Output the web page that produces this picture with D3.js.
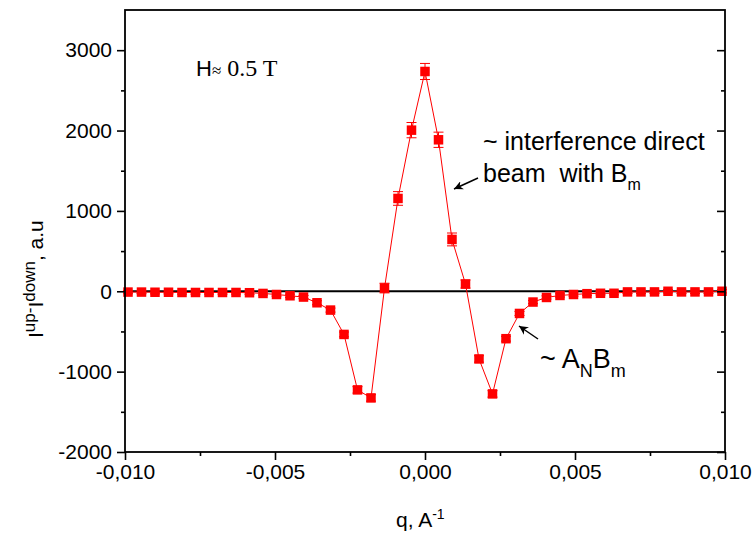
<!DOCTYPE html>
<html>
<head>
<meta charset="utf-8">
<script src="https://cdn.jsdelivr.net/npm/d3@7"></script>
<style>
  html, body { margin: 0; padding: 0; background: #fff; }
  svg { display: block; }
  text { font-family: "Liberation Sans", Arial, sans-serif; fill: #000; white-space: pre; }
</style>
</head>
<body>
<svg id="chart" width="756" height="537"></svg>
<script>
// Momentum transfer q (1/A)
const qValues = [
  -0.00990, -0.00945, -0.00900, -0.00855, -0.00810, -0.00765, -0.00720, -0.00675, -0.00630,
  -0.00585, -0.00540, -0.00495, -0.00450, -0.00405, -0.00360, -0.00315, -0.00270, -0.00225,
  -0.00180, -0.00135, -0.00090, -0.00045, 0.00000, 0.00045, 0.00090, 0.00135, 0.00180,
  0.00225, 0.00270, 0.00315, 0.00360, 0.00405, 0.00450, 0.00495, 0.00540, 0.00585,
  0.00630, 0.00675, 0.00720, 0.00765, 0.00810, 0.00855, 0.00900, 0.00945, 0.00990
];
// I(up) - I(down), a.u.
const diffValues = [
  -10, -10, -12, -12, -15, -15, -15, -15, -15,
  -18, -27, -40, -56, -72, -143, -234, -537, -1227,
  -1327, 40, 1155, 2005, 2735, 1885, 645, 90, -842,
  -1277, -590, -276, -134, -77, -52, -40, -30, -25,
  -25, -8, -8, -8, 0, -8, -8, -8, 0
];
// error bar half-widths
const errValues = [
  20, 20, 20, 20, 20, 20, 20, 20, 20,
  20, 20, 20, 20, 20, 25, 25, 30, 40,
  40, 60, 85, 95, 100, 95, 80, 50, 40,
  40, 30, 25, 20, 20, 20, 20, 20, 20,
  20, 20, 20, 20, 20, 20, 20, 20, 20
];

const xMajorTicks = [-0.010, -0.005, 0.000, 0.005, 0.010];
const xMinorTicks = [-0.0075, -0.0025, 0.0025, 0.0075];
const yMajorTicks = [-2000, -1000, 0, 1000, 2000, 3000];
const yMinorTicks = [-1500, -500, 500, 1500, 2500];

const svg = d3.select("#chart");
const plotL = 125, plotR = 725, plotT = 10, plotB = 452;

const x = d3.scaleLinear().domain([-0.010, 0.010]).range([plotL, plotR]);
const y = d3.scaleLinear().domain([-2000, 3500]).range([plotB, plotT]);

const fmtX = d => (d < 0 ? "-" : "") + Math.abs(d).toFixed(3).replace(".", ",");
const fmtY = d => (d < 0 ? "-" : "") + Math.abs(d);

const data = qValues.map((q, i) => ({ q, v: diffValues[i], e: errValues[i] }));

// zero reference line
svg.append("line")
  .attr("x1", plotL).attr("x2", plotR)
  .attr("y1", y(0)).attr("y2", y(0))
  .attr("stroke", "#000").attr("stroke-width", 2.2);

// connecting line
svg.append("path")
  .datum(data)
  .attr("fill", "none")
  .attr("stroke", "#ff0000")
  .attr("stroke-width", 1)
  .attr("d", d3.line().x(d => x(d.q)).y(d => y(d.v)));

// error bars
const eb = svg.append("g").attr("stroke", "#ff0000").attr("stroke-width", 1);
data.forEach(d => {
  const cx = x(d.q);
  eb.append("line").attr("x1", cx).attr("x2", cx).attr("y1", y(d.v - d.e)).attr("y2", y(d.v + d.e));
  eb.append("line").attr("x1", cx - 5).attr("x2", cx + 5).attr("y1", y(d.v - d.e)).attr("y2", y(d.v - d.e));
  eb.append("line").attr("x1", cx - 5).attr("x2", cx + 5).attr("y1", y(d.v + d.e)).attr("y2", y(d.v + d.e));
});

// square markers
const sz = 9.5;
svg.append("g").selectAll("rect")
  .data(data).join("rect")
  .attr("x", d => x(d.q) - sz / 2)
  .attr("y", d => y(d.v) - sz / 2)
  .attr("width", sz).attr("height", sz)
  .attr("fill", "#ff0000");

// axes
function styleAxis(g) {
  g.select(".domain").remove();
  g.selectAll(".tick line").attr("stroke", "#000").attr("stroke-width", 1.6);
  g.selectAll(".tick text").style("font-size", "21px")
    .style("font-family", "'Liberation Sans', Arial, sans-serif");
}

// left axis
svg.append("g").attr("transform", `translate(${plotL},0)`)
  .call(d3.axisLeft(y).tickValues(yMajorTicks).tickFormat(fmtY).tickSize(8).tickPadding(5))
  .call(styleAxis);
svg.append("g").attr("transform", `translate(${plotL},0)`)
  .call(d3.axisLeft(y).tickValues(yMinorTicks).tickFormat("").tickSize(4))
  .call(styleAxis);

// right axis (inward ticks)
svg.append("g").attr("transform", `translate(${plotR},0)`)
  .call(d3.axisLeft(y).tickValues(yMajorTicks).tickFormat("").tickSize(8))
  .call(styleAxis);
svg.append("g").attr("transform", `translate(${plotR},0)`)
  .call(d3.axisLeft(y).tickValues(yMinorTicks).tickFormat("").tickSize(4))
  .call(styleAxis);

// bottom axis
svg.append("g").attr("transform", `translate(0,${plotB})`)
  .call(d3.axisBottom(x).tickValues(xMajorTicks).tickFormat(fmtX).tickSize(8).tickPadding(4))
  .call(styleAxis);
svg.append("g").attr("transform", `translate(0,${plotB})`)
  .call(d3.axisBottom(x).tickValues(xMinorTicks).tickFormat("").tickSize(4))
  .call(styleAxis);

// frame
svg.append("rect")
  .attr("x", plotL).attr("y", plotT)
  .attr("width", plotR - plotL).attr("height", plotB - plotT)
  .attr("fill", "none").attr("stroke", "#000").attr("stroke-width", 1.8);

// axis titles
const xt = svg.append("text")
  .attr("x", 396).attr("y", 527)
  .style("font-size", "21px");
xt.append("tspan").text("q, A");
xt.append("tspan").attr("dy", -8).style("font-size", "14px").text("-1");

const yt = svg.append("text")
  .attr("transform", "translate(43,338) rotate(-90)")
  .style("font-size", "21px");
yt.append("tspan").text("I");
yt.append("tspan").attr("dy", -8).style("font-size", "17px").text("up-");
yt.append("tspan").attr("dy", 8).text("I");
yt.append("tspan").attr("dy", -8).style("font-size", "17px").text("down");
yt.append("tspan").attr("dy", 8).text(", a.u");

// field label
const ht = svg.append("text").attr("x", 196).attr("y", 76).style("font-size", "22px");
ht.append("tspan").text("H");
ht.append("tspan").style("font-family", "'Liberation Serif', 'Times New Roman', serif")
  .style("font-size", "17px").text("\u2248");
ht.append("tspan").style("font-family", "'Liberation Serif', 'Times New Roman', serif")
  .style("font-size", "24px").text(" 0.5 T");

// annotations
svg.append("text").attr("x", 483).attr("y", 150).style("font-size", "25px")
  .text("~ interference direct");
const b2 = svg.append("text").attr("x", 483).attr("y", 182).style("font-size", "25px");
b2.append("tspan").text("beam\u00a0 with B");
b2.append("tspan").attr("dy", 8).style("font-size", "16px").text("m");

const a2 = svg.append("text").attr("x", 540).attr("y", 368).style("font-size", "27px");
a2.append("tspan").text("~ A");
a2.append("tspan").attr("dy", 9).style("font-size", "18px").text("N");
a2.append("tspan").attr("dy", -9).text("B");
a2.append("tspan").attr("dy", 9).style("font-size", "18px").text("m");

// arrows
svg.append("defs").append("marker")
  .attr("id", "arrowhead")
  .attr("viewBox", "0 0 10 10")
  .attr("refX", 10).attr("refY", 5)
  .attr("markerWidth", 9).attr("markerHeight", 9)
  .attr("markerUnits", "userSpaceOnUse")
  .attr("orient", "auto")
  .append("path").attr("d", "M0,0 L10,5 L0,10 L3,5 Z").attr("fill", "#000");

svg.append("line")
  .attr("x1", 478).attr("y1", 178).attr("x2", 454).attr("y2", 189)
  .attr("stroke", "#000").attr("stroke-width", 1.5)
  .attr("marker-end", "url(#arrowhead)");
svg.append("line")
  .attr("x1", 538).attr("y1", 339).attr("x2", 519).attr("y2", 326)
  .attr("stroke", "#000").attr("stroke-width", 1.5)
  .attr("marker-end", "url(#arrowhead)");
</script>
</body>
</html>
